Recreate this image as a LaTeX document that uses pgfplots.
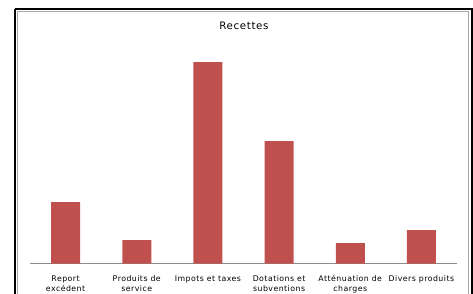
\documentclass[border=0pt]{standalone}
\usepackage{pgfplots}
\pgfplotsset{compat=1.18}
\usepackage{fontspec}
\setmainfont{DejaVu Sans}
\newfontfamily\spacedfont[LetterSpace=6]{DejaVu Sans}
\definecolor{barred}{HTML}{C0504D}
\definecolor{axgray}{HTML}{8C8C8C}
\begin{document}
\begin{tikzpicture}[x=1pt,y=1pt]
\path[use as bounding box] (0,0) rectangle (473,293);
\clip (0,0) rectangle (473,293);
\fill[white] (0,0) rectangle (473,293);
\draw[black, line width=2pt] (15,284) -- (472,284) -- (472,-10) (15,-10) -- (15,284);
\draw[gray!70, line width=0.8pt] (17.8,-10) -- (17.8,281.3) -- (468.2,281.3) -- (468.2,-10);
\node[font=\spacedfont\fontsize{10.3}{12}\selectfont] at (244,267) {Recettes};
\begin{axis}[
  at={(30pt,29.5pt)}, anchor=south west,
  scale only axis, width=427pt, height=215pt,
  xmin=-0.5, xmax=5.5, ymin=0, ymax=215,
  axis x line=bottom, axis y line=none,
  x axis line style={axgray, line width=0.8pt, -},
  xtick=data,
  xticklabels={{Report\\excédent},{Produits de\\service},{Impots et taxes},{Dotations et\\subventions},{Atténuation de\\charges},{Divers produits}},
  xticklabel style={align=center, font=\spacedfont\fontsize{7.8}{10}\selectfont, anchor=north, yshift=-8.5pt},
  major tick length=0pt,
  ybar, bar width=29pt,
  clip=false,
]
\addplot[fill=barred, draw=none] coordinates {(0,61.5) (1,23.5) (2,201.5) (3,122.5) (4,20.5) (5,33.5)};
\end{axis}
\end{tikzpicture}
\end{document}
